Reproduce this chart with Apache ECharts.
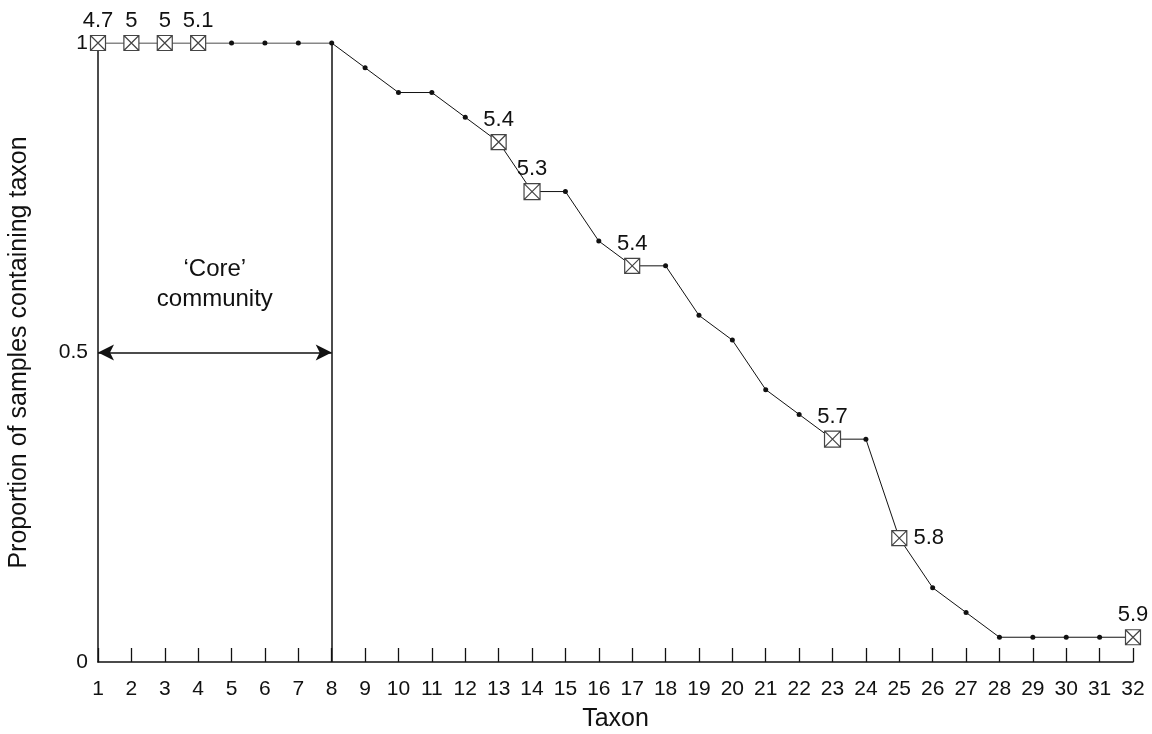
<!DOCTYPE html>
<html><head><meta charset="utf-8">
<script src="https://cdn.jsdelivr.net/npm/echarts@6/dist/echarts.min.js"></script>
<style>html,body{margin:0;padding:0;background:#fff}#c{width:1152px;height:734px}</style>
</head><body><div id="c"></div>
<script>
const taxa = ['1','2','3','4','5','6','7','8','9','10','11','12','13','14','15','16','17','18','19','20','21','22','23','24','25','26','27','28','29','30','31','32'];
const proportion = [1,1,1,1,1,1,1,1,0.96,0.92,0.92,0.88,0.84,0.76,0.76,0.68,0.64,0.64,0.56,0.52,0.44,0.40,0.36,0.36,0.20,0.12,0.08,0.04,0.04,0.04,0.04,0.04];
const markedLabels = ['4.7','5','5','5.1',null,null,null,null,null,null,null,null,'5.4','5.3',null,null,'5.4',null,null,null,null,null,'5.7',null,'5.8',null,null,null,null,null,null,'5.9'];
const labelRight = ['25'];
const yTicks = ['0','0.5','1'];
const coreStart = '1', coreEnd = '8';
const coreText = '\u2018Core\u2019\ncommunity';

const boxSym = 'path://M0,0L10,0L10,10L0,10Z M0,0L10,10 M10,0L0,10';
const FONT = 'Liberation Sans, Arial, sans-serif';

const data = proportion.map((v, i) => {
  const lab = markedLabels[i];
  if (lab === null) {
    return { value: v, symbol: 'circle', symbolSize: 5, itemStyle: { color: '#111', borderWidth: 0 }, label: { show: false } };
  }
  const right = labelRight.includes(taxa[i]);
  return {
    value: v, symbol: boxSym, symbolSize: (taxa[i] === '14' || taxa[i] === '23') ? 16 : 15,
    itemStyle: { color: '#fff', borderColor: '#444', borderWidth: 1.2 },
    label: { show: true, formatter: lab, position: right ? 'right' : 'top', distance: right ? 6 : 3,
      fontSize: 22, color: '#111', fontFamily: FONT }
  };
});

const chart = echarts.init(document.getElementById('c'), null, { renderer: 'canvas' });
chart.setOption({
  backgroundColor: '#fff',
  animation: false,
  grid: { left: 98, right: 19, top: 43, bottom: 72, containLabel: false, outerBoundsMode: 'none' },
  xAxis: {
    type: 'category', data: taxa, boundaryGap: false,
    name: 'Taxon', nameLocation: 'middle', nameGap: 45,
    nameTextStyle: { fontSize: 25, color: '#111', fontFamily: FONT },
    axisLine: { lineStyle: { color: '#111', width: 1.5 } },
    axisTick: { inside: true, length: 14, lineStyle: { color: '#111', width: 1.3 } },
    axisLabel: { fontSize: 21, color: '#111', margin: 17, fontFamily: FONT, interval: 0 },
    splitLine: { show: false }
  },
  yAxis: {
    type: 'value', min: 0, max: 1, interval: 0.5,
    name: 'Proportion of samples containing taxon', nameLocation: 'middle', nameGap: 66,
    nameTextStyle: { fontSize: 25, color: '#111', fontFamily: FONT },
    axisLine: { show: true, lineStyle: { color: '#111', width: 1.5 } },
    axisTick: { show: false },
    axisLabel: { fontSize: 21, color: '#111', margin: 10, fontFamily: FONT,
      formatter: (v) => yTicks.find(t => Math.abs(parseFloat(t) - v) < 1e-9) || '' },
    splitLine: { show: false }
  },
  series: [{
    type: 'line', data: data, z: 5,
    lineStyle: { color: '#111', width: 1 },
    markLine: {
      silent: true, z: 1,
      lineStyle: { color: '#111', width: 1.5, type: 'solid' },
      label: { show: false },
      data: [
        [{ coord: [coreEnd, 0], symbol: 'none' }, { coord: [coreEnd, 1], symbol: 'none' }],
        [{ coord: [coreStart, 0.5], symbol: 'arrow', symbolSize: [12, 16],
           label: { show: true, position: 'middle', formatter: coreText, distance: 38,
             fontSize: 24, lineHeight: 30, color: '#111', fontFamily: FONT, align: 'center' } },
         { coord: [coreEnd, 0.5], symbol: 'arrow', symbolSize: [12, 16] }]
      ]
    }
  }]
});
</script></body></html>
